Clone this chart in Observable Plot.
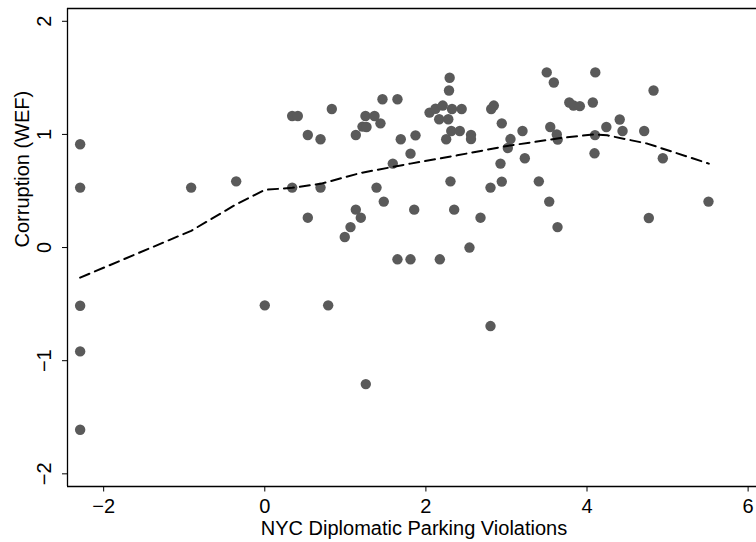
<!DOCTYPE html>
<html>
<head>
<meta charset="utf-8">
<script src="https://cdn.jsdelivr.net/npm/d3@7"></script>
<script src="https://cdn.jsdelivr.net/npm/@observablehq/plot@0.6"></script>
<style>
  html, body { margin: 0; padding: 0; background: #fff; overflow: hidden; }
</style>
</head>
<body>
<div id="chart"></div>
<script>
// Diplomatic parking violations (log scale) against WEF corruption index, one value per country
const violations = [
  -2.292, -2.292, -2.292, -2.292, -2.292, -0.914, -0.355, 0.000,
  0.340, 0.410, 0.340, 0.534, 0.534, 0.692, 0.692, 0.787, 0.832, 0.993, 1.064,
  1.130, 1.130, 1.192, 1.213, 1.263, 1.250, 1.362, 1.436, 1.387, 1.461, 1.477,
  1.254, 1.589, 1.647, 1.688, 1.647, 1.809, 1.809, 1.855, 1.871,
  2.045, 2.119, 2.165, 2.173, 2.209, 2.252, 2.278, 2.287, 2.295, 2.305, 2.315,
  2.324, 2.351, 2.421, 2.444, 2.541, 2.560, 2.560, 2.678, 2.802, 2.802, 2.811,
  2.843, 2.926, 2.942, 2.942, 3.017, 3.050, 3.199, 3.228, 3.402, 3.500, 3.531,
  3.544, 3.588, 3.625, 3.636, 3.634, 3.780, 3.832, 3.911, 4.072, 4.093, 4.103,
  4.099, 4.240, 4.406, 4.441, 4.710, 4.767, 4.826, 4.941, 5.508
];
const corruption = [
  0.913, 0.530, -0.514, -0.918, -1.610, 0.530, 0.585, -0.511,
  1.163, 1.163, 0.530, 0.995, 0.264, 0.957, 0.530, -0.511, 1.225, 0.093, 0.181,
  0.995, 0.335, 0.264, 1.069, 1.066, 1.163, 1.163, 1.098, 0.530, 1.311, 0.406,
  -1.207, 0.742, 1.311, 0.957, -0.104, 0.830, -0.104, 0.335, 0.992,
  1.193, 1.227, 1.134, -0.104, 1.255, 0.957, 1.134, 1.388, 1.501, 0.585, 1.030,
  1.225, 0.335, 1.030, 1.225, 0.000, 0.996, 0.959, 0.264, 0.530, -0.694, 1.225,
  1.255, 0.742, 1.098, 0.583, 0.880, 0.959, 1.030, 0.789, 0.585, 1.548, 0.406,
  1.066, 1.459, 0.999, 0.954, 0.181, 1.282, 1.256, 1.250, 1.282, 0.833, 1.548,
  0.994, 1.066, 1.132, 1.030, 1.030, 0.261, 1.388, 0.789, 0.406
];

// Lowess smooth of corruption on violations
const smoothX = [-2.292, -0.914, -0.355, 0.000, 0.340, 0.692, 1.188, 1.809, 2.389, 3.009, 3.671, 4.084, 4.251, 4.747, 5.512];
const smoothY = [-0.266, 0.148, 0.382, 0.510, 0.528, 0.563, 0.659, 0.742, 0.815, 0.898, 0.968, 1.001, 0.992, 0.919, 0.742];

const xTicks = [-2, 0, 2, 4, 6];
const yTicks = [-2, -1, 0, 1, 2];
const xTitle = "NYC Diplomatic Parking Violations";
const yTitle = "Corruption (WEF)";

const points = violations.map((x, i) => ({x, y: corruption[i]}));
const smooth = smoothX.map((x, i) => ({x, y: smoothY[i]}));

const xDomain = [-2.449, 6.104];
const yDomain = [-2.112, 2.113];
const border = {stroke: "#000", strokeWidth: 1.3};
// integer tick labels with a typographic minus sign
const intLabel = d => (d < 0 ? "\u2212" : "") + Math.abs(d);

const chart = Plot.plot({
  width: 756,
  height: 542,
  marginLeft: 67,
  marginRight: 0,
  marginTop: 8,
  marginBottom: 56,
  style: {
    fontFamily: "'Liberation Sans', Arial, Helvetica, sans-serif",
    fontSize: "20px",
    background: "#fff",
    color: "#000"
  },
  x: {domain: xDomain},
  y: {domain: yDomain},
  marks: [
    Plot.dot(points, {x: "x", y: "y", r: 5.2, fill: "#5a5a5a"}),
    Plot.line(smooth, {x: "x", y: "y", stroke: "#000", strokeWidth: 2, strokeDasharray: "10,6"}),
    // open box: top, bottom and left sides of the plotting region
    Plot.ruleY([yDomain[1]], border),
    Plot.ruleY([yDomain[0]], border),
    Plot.ruleX([xDomain[0]], border),
    Plot.axisX({ticks: xTicks, tickFormat: intLabel, tickSize: 5.5, tickPadding: 6.5, label: null, stroke: "#000"}),
    Plot.axisY({ticks: yTicks, tickFormat: intLabel, tickSize: 5, tickPadding: 12, tickRotate: -90, label: null, stroke: "#000"}),
    Plot.text([xTitle], {frameAnchor: "bottom", dy: 48, dx: 2, lineAnchor: "bottom", text: d => d}),
    Plot.text([yTitle], {frameAnchor: "left", dx: -39, rotate: -90, lineAnchor: "bottom", text: d => d})
  ]
});

document.getElementById("chart").appendChild(chart);
</script>
</body>
</html>
